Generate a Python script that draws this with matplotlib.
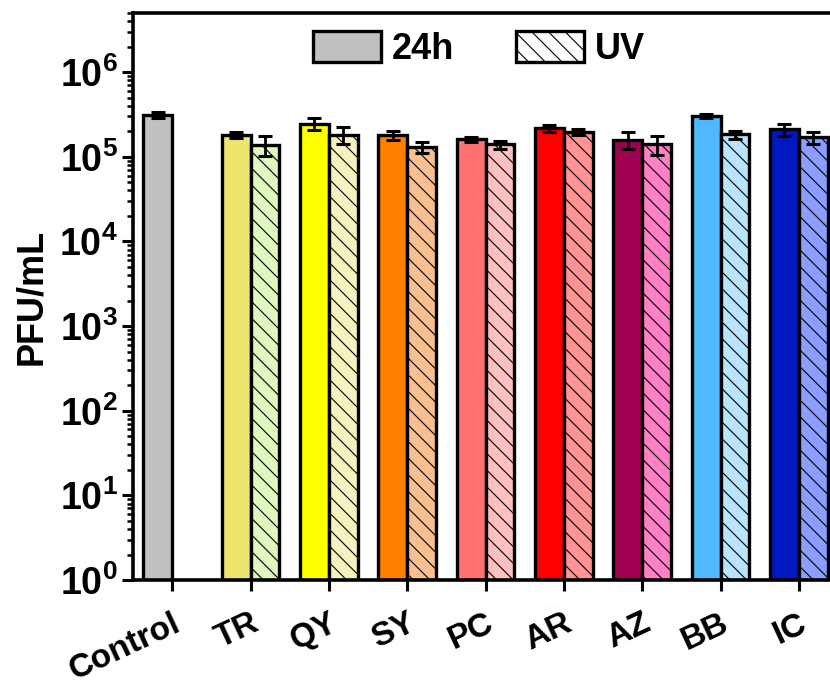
import numpy as np
import matplotlib.pyplot as plt
from matplotlib.patches import Patch
from matplotlib.ticker import LogLocator, FuncFormatter, NullFormatter

plt.rcParams['font.family'] = ['Liberation Sans', 'DejaVu Sans']
plt.rcParams['font.weight'] = 'bold'
plt.rcParams['mathtext.fontset'] = 'custom'
plt.rcParams['mathtext.bf'] = 'Liberation Sans:bold'
plt.rcParams['mathtext.rm'] = 'Liberation Sans:bold'
plt.rcParams['hatch.linewidth'] = 0.8
plt.rcParams['hatch.color'] = '#333333'

# datos
groups = ["Control", "TR", "QY", "SY", "PC", "AR", "AZ", "BB", "IC"]
pfu_24h = [3.1e5, 1.81e5, 2.47e5, 1.80e5, 1.61e5, 2.17e5, 1.60e5, 3.04e5, 2.12e5]
err_24h = [0.25e5, 0.15e5, 0.37e5, 0.24e5, 0.12e5, 0.22e5, 0.35e5, 0.15e5, 0.35e5]
pfu_uv = [None, 1.38e5, 1.82e5, 1.31e5, 1.40e5, 1.96e5, 1.40e5, 1.84e5, 1.70e5]
err_uv = [None, 0.37e5, 0.40e5, 0.20e5, 0.15e5, 0.15e5, 0.36e5, 0.20e5, 0.28e5]

col_24h = ["#c0c0c0", "#ece56e", "#ffff00", "#ff8000", "#ff7070",
           "#ff0000", "#a00050", "#50b8ff", "#0018c0"]
col_uv = [None, "#def8c0", "#f6f2c0", "#f8c090", "#ffc0c0",
          "#ff9494", "#ff80c4", "#b8e4ff", "#8c9cff"]

w = 0.37
x = np.arange(len(groups))

fig = plt.figure(figsize=(8.3, 6.85), dpi=100)
ax = fig.add_axes([133 / 830, 105 / 685, 705 / 830, 567 / 685])

for i in range(len(groups)):
    ax.bar(x[i] - w, pfu_24h[i], width=w, align="edge", color=col_24h[i],
           edgecolor="black", linewidth=2.4, zorder=2)
    ax.errorbar(x[i] - w / 2, pfu_24h[i], yerr=err_24h[i], fmt="none",
                ecolor="black", elinewidth=2, capsize=5, capthick=2.2, zorder=3)
    if pfu_uv[i] is not None:
        ax.bar(x[i], pfu_uv[i], width=w, align="edge", color=col_uv[i],
               edgecolor="black", linewidth=2.4, hatch="\\\\", zorder=2)
        ax.errorbar(x[i] + w / 2, pfu_uv[i], yerr=err_uv[i], fmt="none",
                    ecolor="black", elinewidth=2, capsize=5, capthick=2.2, zorder=3)

ax.set_yscale("log")
ax.set_ylim(1, 5e6)
ax.set_xlim(-0.5, 8.5)
ax.yaxis.set_major_locator(LogLocator(base=10, numticks=10))
ax.yaxis.set_minor_locator(LogLocator(base=10, subs=np.arange(2, 10), numticks=20))
ax.yaxis.set_major_formatter(FuncFormatter(lambda v, p: r"$\mathbf{10^{%d}}$" % round(np.log10(v))))
ax.yaxis.set_minor_formatter(NullFormatter())

ax.set_xticks(x)
ax.set_xticklabels(groups, rotation=25, ha="right", va="top",
                   rotation_mode="anchor", fontsize=24)
ax.tick_params(axis="x", direction="out", length=8, width=2.2, pad=12)
ax.tick_params(axis="y", which="major", direction="out", length=8, width=2.2,
               labelsize=27, pad=3)
ax.tick_params(axis="y", which="minor", direction="out", length=4.5, width=1.8)

for s in ax.spines.values():
    s.set_linewidth(2.6)

ax.set_ylabel("PFU/mL", fontsize=26, fontweight="bold", labelpad=7)

handles = [Patch(facecolor="#c0c0c0", edgecolor="black", linewidth=2.4, label="24h"),
           Patch(facecolor="white", edgecolor="black", linewidth=2.4, hatch="\\\\", label="UV")]
ax.legend(handles=handles, ncol=2, frameon=False, loc="upper center",
          bbox_to_anchor=(479 / 830, 1 - 31 / 685), bbox_transform=fig.transFigure,
          fontsize=26, handlelength=1.9, handleheight=0.95, handletextpad=0.3,
          columnspacing=1.7, borderaxespad=0, borderpad=0)

fig.savefig("out.png", dpi=100)
